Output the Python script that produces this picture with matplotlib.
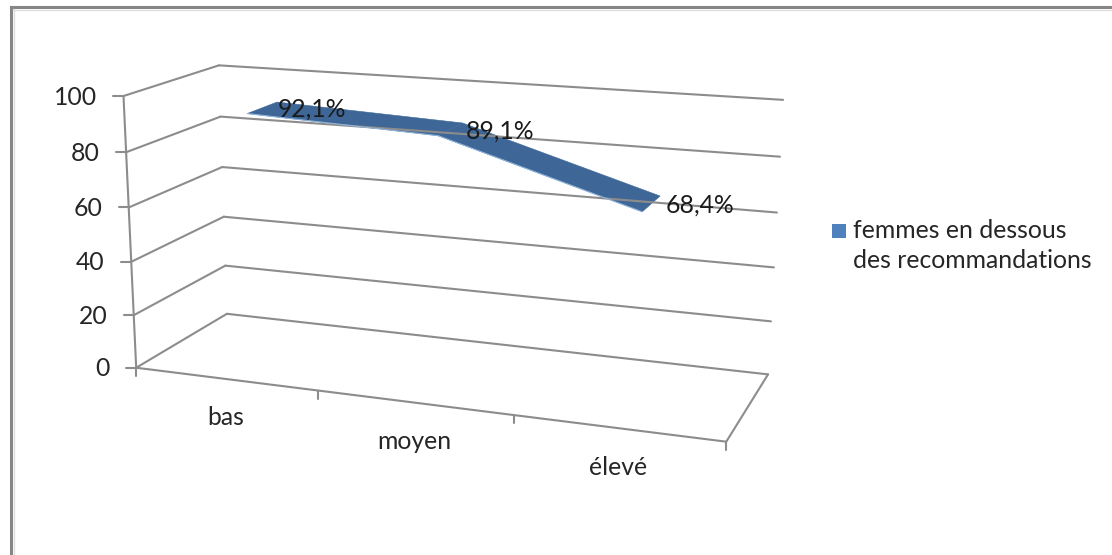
import numpy as np
import matplotlib
matplotlib.use('Agg')
import matplotlib.pyplot as plt
from matplotlib.patches import Polygon, Rectangle

plt.rcParams['font.family'] = ['Lato', 'DejaVu Sans']

categories = ['bas', 'moyen', 'élevé']
values = [92.1, 89.1, 68.4]
y_ticks = [0, 20, 40, 60, 80, 100]
series_name = ['femmes en dessous', 'des recommandations']

GRID = '#8c8c8c'
RIBBON = '#3e6797'
TEXT = '#262626'
FONT_SIZE = 17.8

# box corners as (category, value, depth) -> pixel, used to solve the 3D camera
box_3d = np.array([
    [0, 0, 0], [0, 100, 0], [0, 0, 1], [0, 100, 1], [3, 0, 1], [3, 100, 1],
    [3, 0, 0], [1, 0, 0], [2, 0, 0], [3, 60, 1], [0, 60, 1],
], dtype=float)
box_px = np.array([
    [136, 368], [124, 96], [227, 314], [218, 65], [768, 374], [783, 100],
    [727, 441], [318, 390], [513, 416], [777, 213], [223, 167],
], dtype=float)


def solve_camera(world, px):
    rows = []
    for (x, y, z), (u, v) in zip(world, px):
        rows.append([x, y, z, 1, 0, 0, 0, 0, -u * x, -u * y, -u * z, -u])
        rows.append([0, 0, 0, 0, x, y, z, 1, -v * x, -v * y, -v * z, -v])
    norm = np.linalg.svd(np.array(rows))[2][-1]
    return norm.reshape(3, 4)


camera = solve_camera(box_3d, box_px)


def proj(x, v, d):
    p = camera @ np.array([x, v, d, 1.0])
    return p[0] / p[2], p[1] / p[2]


fig = plt.figure(figsize=(11.12, 5.55), dpi=100)
ax = fig.add_axes([0, 0, 1, 1])
ax.set_xlim(0, 1112)
ax.set_ylim(555, 0)
ax.axis('off')


def seg(a, b, lw=1.5, color=GRID):
    ax.plot([a[0], b[0]], [a[1], b[1]], color=color, lw=lw, solid_capstyle='round')


# outer frame, only top and left are visible
ax.plot([11, 11], [7, 555], color='#868686', lw=2.2)
ax.plot([11, 1112], [7, 7], color='#868686', lw=2.2)
ax.plot([13.5, 13.5], [9, 555], color='#dddddd', lw=0.9)
ax.plot([13, 1112], [9.5, 9.5], color='#dddddd', lw=0.9)

# gridlines on the side and back walls, with value labels
for t in y_ticks:
    front = proj(0, t, 0)
    back = proj(0, t, 1)
    seg(front, back)
    seg(back, proj(3, t, 1))
    seg((front[0] - 10, front[1]), front)
    ax.text(front[0] - 26.5, front[1] + 1, str(t), ha='right', va='center',
            fontsize=FONT_SIZE, color=TEXT)

# value axis, floor edges and category ticks
seg(proj(0, 0, 0), proj(0, 100, 0))
seg(proj(0, 0, 0), proj(3, 0, 0))
seg(proj(3, 0, 0), proj(3, 0, 1))
for i in range(len(categories) + 1):
    foot = proj(i, 0, 0)
    seg(foot, (foot[0], foot[1] + 8))

# the 3D line is a ribbon through the middle of the depth axis
xs = [i + 0.5 for i in range(len(values))]
d_front, d_back = 0.32, 0.66
for i in range(len(values) - 1):
    pts = [proj(xs[i], values[i], d_front), proj(xs[i + 1], values[i + 1], d_front),
           proj(xs[i + 1], values[i + 1], d_back), proj(xs[i], values[i], d_back)]
    ax.add_patch(Polygon(pts, closed=True, facecolor=RIBBON, edgecolor=RIBBON, lw=0.4))
    seg(pts[0], pts[1], lw=0.8, color='#8fb4dc')

# data labels sit just right of each ribbon point
for x, v in zip(xs, values):
    cx, cy = proj(x, v, 0.5)
    label = f'{v:.1f}'.replace('.', ',') + '%'
    ax.text(cx + 14, cy + 2, label, ha='left', va='center', fontsize=FONT_SIZE, color='#1a1a1a')

# category labels under the floor
for x, name in zip(xs, categories):
    cx, cy = proj(x, 0, 0)
    ax.text(cx, cy + 39, name, ha='center', va='center', fontsize=FONT_SIZE, color=TEXT)

# legend
ax.add_patch(Rectangle((832, 224), 14, 14, facecolor='#4f81bd', edgecolor='none'))
ax.text(853, 230, series_name[0], ha='left', va='center', fontsize=FONT_SIZE, color=TEXT)
ax.text(853, 260, series_name[1], ha='left', va='center', fontsize=FONT_SIZE, color=TEXT)

fig.savefig('out.png', dpi=100)
